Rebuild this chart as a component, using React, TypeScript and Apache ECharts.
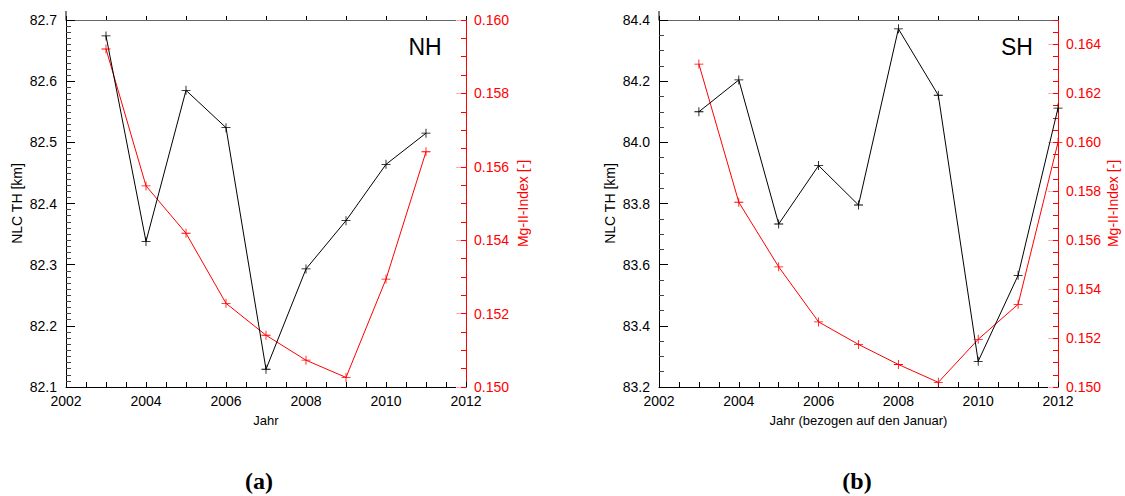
import React, { useEffect, useRef } from "react";
import * as echarts from "echarts";

const nhYears = [2003, 2004, 2005, 2006, 2007, 2008, 2009, 2010, 2011];
const nhHeight = [82.674, 82.338, 82.585, 82.524, 82.129, 82.293, 82.372, 82.464, 82.515];
const nhMgII = [0.15921, 0.15548, 0.15419, 0.15228, 0.15141, 0.15073, 0.15026, 0.15294, 0.15641];

const shYears = [2003, 2004, 2005, 2006, 2007, 2008, 2009, 2010, 2011, 2012];
const shHeight = [84.1, 84.204, 83.733, 83.924, 83.795, 84.371, 84.154, 83.284, 83.565, 84.112];
const shMgII = [0.1632, 0.15755, 0.15491, 0.15266, 0.15174, 0.15092, 0.15019, 0.15195, 0.15338, 0.16];

const xTitles = ["Jahr", "Jahr (bezogen auf den Januar)"];
const panelTitles = ["NH", "SH"];
const panelTags = ["(a)", "(b)"];
const yTitle = "NLC TH [km]";
const y2Title = "Mg-II-Index [-]";

const FONT = "'Liberation Sans', Helvetica, Arial, sans-serif";
const RED = "#ff0000";
const PLUS = "path://M0 4.55H10V5.45H0Z M4.55 0H5.45V10H4.55Z";

export default function App() {
  const ref = useRef<HTMLDivElement>(null);
  useEffect(() => {
    if (!ref.current) return;
    const chart = echarts.init(ref.current, null, { renderer: "svg" });
    const grids = [
      { left: 66, top: 20, width: 400, height: 367 },
      { left: 659, top: 20, width: 399, height: 367 },
    ];
    const xAxes: any[] = [];
    [0, 1].forEach((g) => {
      xAxes.push({
        type: "value",
        gridIndex: g,
        position: "bottom",
        min: 2002,
        max: 2012,
        interval: 2,
        name: xTitles[g],
        nameLocation: "middle",
        nameGap: 27,
        nameTextStyle: { fontFamily: FONT, fontSize: 13, color: "#000" },
        axisLine: { show: true, lineStyle: { color: "#000", width: 1 } },
        axisTick: { show: true, inside: true, length: 5, lineStyle: { color: "#000" } },
        minorTick: { show: true, splitNumber: 4, length: 5, lineStyle: { color: "#000" } },
        axisLabel: { fontFamily: FONT, fontSize: 14, color: "#000", margin: 7, formatter: (v: number) => String(v) },
        splitLine: { show: false },
      });
      xAxes.push({
        type: "value",
        gridIndex: g,
        position: "top",
        min: 2002,
        max: 2012,
        interval: 1,
        axisLine: { show: true, lineStyle: { color: "#666", width: 1 } },
        axisTick: { show: true, inside: false, length: 4, lineStyle: { color: "#000" } },
        axisLabel: { show: false },
        splitLine: { show: false },
      });
    });

    const leftCfg = [
      { min: 82.1, max: 82.7, interval: 0.1, minor: 10 },
      { min: 83.2, max: 84.4, interval: 0.2, minor: 4 },
    ];
    const rightCfg = [
      { min: 0.15, max: 0.16 },
      { min: 0.15, max: 0.165 },
    ];
    const yAxes: any[] = [];
    [0, 1].forEach((g) => {
      const l = leftCfg[g];
      yAxes.push({
        type: "value",
        gridIndex: g,
        position: "left",
        min: l.min,
        max: l.max,
        interval: l.interval,
        name: yTitle,
        nameLocation: "middle",
        nameGap: 42,
        nameTextStyle: { fontFamily: FONT, fontSize: 14, color: "#000" },
        axisLine: { show: true, lineStyle: { color: "#000", width: 1 } },
        axisTick: { show: true, inside: true, length: 9, lineStyle: { color: "#000" } },
        minorTick: { show: true, splitNumber: l.minor, length: 5, lineStyle: { color: "#444" } },
        axisLabel: { fontFamily: FONT, fontSize: 14, color: "#000", margin: 9, formatter: (v: number) => v.toFixed(1) },
        splitLine: { show: false },
      });
      const r = rightCfg[g];
      yAxes.push({
        type: "value",
        gridIndex: g,
        position: "right",
        min: r.min,
        max: r.max,
        interval: 0.002,
        name: y2Title,
        nameLocation: "middle",
        nameGap: g === 0 ? 50 : 48,
        nameTextStyle: { fontFamily: FONT, fontSize: 14, color: RED },
        axisLine: { show: true, lineStyle: { color: RED, width: 1 } },
        axisTick: { show: true, inside: true, length: 10, lineStyle: { color: "#ffb0b0" } },
        axisLabel: {
          fontFamily: FONT,
          fontSize: 14,
          color: RED,
          margin: 8,
          showMaxLabel: g === 0,
          formatter: (v: number) => v.toFixed(3),
        },
        splitLine: { show: false },
      });
      yAxes.push({
        type: "value",
        gridIndex: g,
        position: "right",
        min: r.min,
        max: r.max,
        interval: 0.0005,
        axisLine: { show: false },
        axisTick: { show: true, inside: true, length: 5, lineStyle: { color: RED } },
        axisLabel: { show: false },
        splitLine: { show: false },
      });
    });

    const mk = (xs: number[], ys: number[]) => xs.map((x, i) => [x, ys[i]]);
    const lineSeries = (xi: number, yi: number, data: number[][], color: string) => ({
      type: "line",
      xAxisIndex: xi,
      yAxisIndex: yi,
      data,
      symbol: PLUS,
      symbolSize: 9,
      showSymbol: true,
      clip: false,
      lineStyle: { color, width: 1 },
      itemStyle: { color },
      emphasis: { disabled: true },
    });

    const tagFont = `bold 24px 'Liberation Serif', 'DejaVu Serif', serif`;
    chart.setOption({
      animation: false,
      grid: grids,
      xAxis: xAxes,
      yAxis: yAxes,
      series: [
        lineSeries(0, 1, mk(nhYears, nhMgII), RED),
        lineSeries(0, 0, mk(nhYears, nhHeight), "#000"),
        lineSeries(2, 4, mk(shYears, shMgII), RED),
        lineSeries(2, 3, mk(shYears, shHeight), "#000"),
      ],
      graphic: [
        { type: "text", x: 425, y: 47, style: { text: panelTitles[0], font: `23px ${FONT}`, fill: "#000", textAlign: "center", textVerticalAlign: "middle" } },
        { type: "text", x: 1017, y: 47, style: { text: panelTitles[1], font: `23px ${FONT}`, fill: "#000", textAlign: "center", textVerticalAlign: "middle" } },
        { type: "text", x: 259, y: 481, style: { text: panelTags[0], font: tagFont, fill: "#000", textAlign: "center", textVerticalAlign: "middle" } },
        { type: "text", x: 857, y: 481, style: { text: panelTags[1], font: tagFont, fill: "#000", textAlign: "center", textVerticalAlign: "middle" } },
        { type: "line", shape: { x1: 66, y1: 11, x2: 66, y2: 20 }, style: { stroke: "#000", lineWidth: 1 } },
        { type: "line", shape: { x1: 659, y1: 11, x2: 659, y2: 20 }, style: { stroke: "#000", lineWidth: 1 } },
      ],
    });
    return () => chart.dispose();
  }, []);
  return (
    <div
      ref={ref}
      style={{ position: "fixed", left: 0, top: 0, width: 1125, height: 496, background: "#fff" }}
    />
  );
}
